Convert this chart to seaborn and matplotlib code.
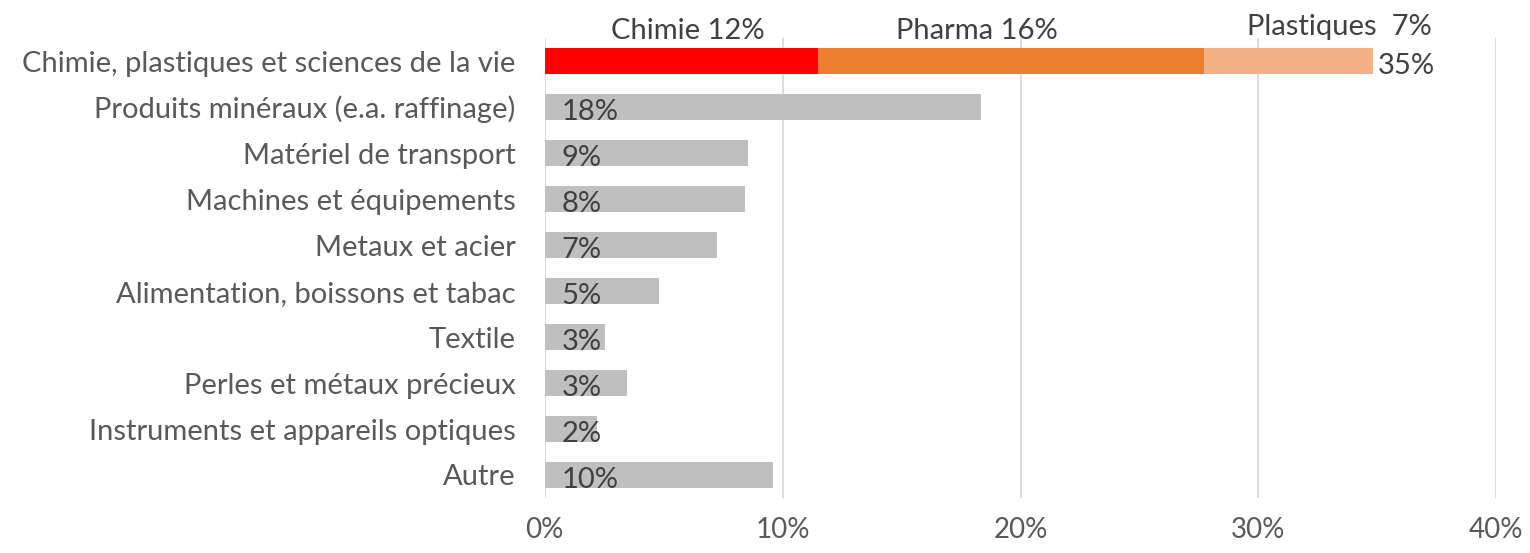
import numpy as np
import pandas as pd
import matplotlib.pyplot as plt
import seaborn as sns
from matplotlib.ticker import FuncFormatter

categories = ["Chimie, plastiques et sciences de la vie",
              "Produits minéraux (e.a. raffinage)",
              "Matériel de transport",
              "Machines et équipements",
              "Metaux et acier",
              "Alimentation, boissons et tabac",
              "Textile",
              "Perles et métaux précieux",
              "Instruments et appareils optiques",
              "Autre"]
values = [34.8, 18.35, 8.55, 8.4, 7.25, 4.8, 2.55, 3.45, 2.2, 9.6]
value_labels = ["35%", "18%", "9%", "8%", "7%", "5%", "3%", "3%", "2%", "10%"]

seg_names = ["Chimie", "Pharma", "Plastiques"]
seg_values = [11.5, 16.2, 7.1]
seg_labels = ["Chimie 12%", "Pharma 16%", "Plastiques  7%"]
seg_colors = ["#FF0000", "#ED7D31", "#F4B183"]

GRAY = "#BFBFBF"
TXT = "#404040"
TICK = "#595959"
FS = 21

sns.set_theme(style="white")
plt.rcParams["font.family"] = ["Lato", "DejaVu Sans"]

df = pd.DataFrame({"cat": categories, "val": values})
other = df.iloc[1:]

fig, ax = plt.subplots(figsize=(15.3, 5.53), dpi=100)
fig.subplots_adjust(left=0.356, right=0.978, top=0.931, bottom=0.0995)

sns.barplot(data=other, y="cat", x="val", order=categories, color=GRAY,
            width=0.58, saturation=1, linewidth=0, ax=ax, zorder=3)

# stacked first row: draw cumulative totals from largest to smallest
cum = np.cumsum(seg_values)
for i in range(len(seg_values) - 1, -1, -1):
    d = pd.DataFrame({"cat": [categories[0]], "val": [cum[i]]})
    sns.barplot(data=d, y="cat", x="val", order=categories, color=seg_colors[i],
                width=0.58, saturation=1, linewidth=0, ax=ax, zorder=3 + (3 - i))

ax.set_xlim(0, 40)
ax.set_ylim(9.5, -0.5)
ax.set_xticks([0, 10, 20, 30, 40])
ax.xaxis.set_major_formatter(FuncFormatter(lambda v, p: f"{v:.0f}%"))
ax.grid(axis="x", color="#D9D9D9", lw=1.3, zorder=0)
for s in ax.spines.values():
    s.set_visible(False)
ax.tick_params(axis="both", length=0, labelcolor=TICK)
ax.tick_params(axis="x", pad=14, labelsize=20)
ax.tick_params(axis="y", pad=21, labelsize=FS)
ax.set_xlabel("")
ax.set_ylabel("")

# value labels inside gray bars
for i in range(1, len(categories)):
    ax.text(0.7, i + 0.1, value_labels[i], ha="left", va="center",
            fontsize=FS, color=TXT, zorder=10)

# segment labels above first bar
ax.text(6.0, -0.37, seg_labels[0], ha="center", va="bottom", fontsize=FS,
        color=TXT, clip_on=False)
ax.text(18.15, -0.37, seg_labels[1], ha="center", va="bottom", fontsize=FS,
        color=TXT, clip_on=False)
ax.text(33.4, -0.45, seg_labels[2], ha="center", va="bottom", fontsize=FS,
        color=TXT, clip_on=False)
ax.text(cum[-1] + 0.2, 0.1, value_labels[0], ha="left", va="center",
        fontsize=FS, color=TXT)

fig.savefig("out.png", dpi=100)
